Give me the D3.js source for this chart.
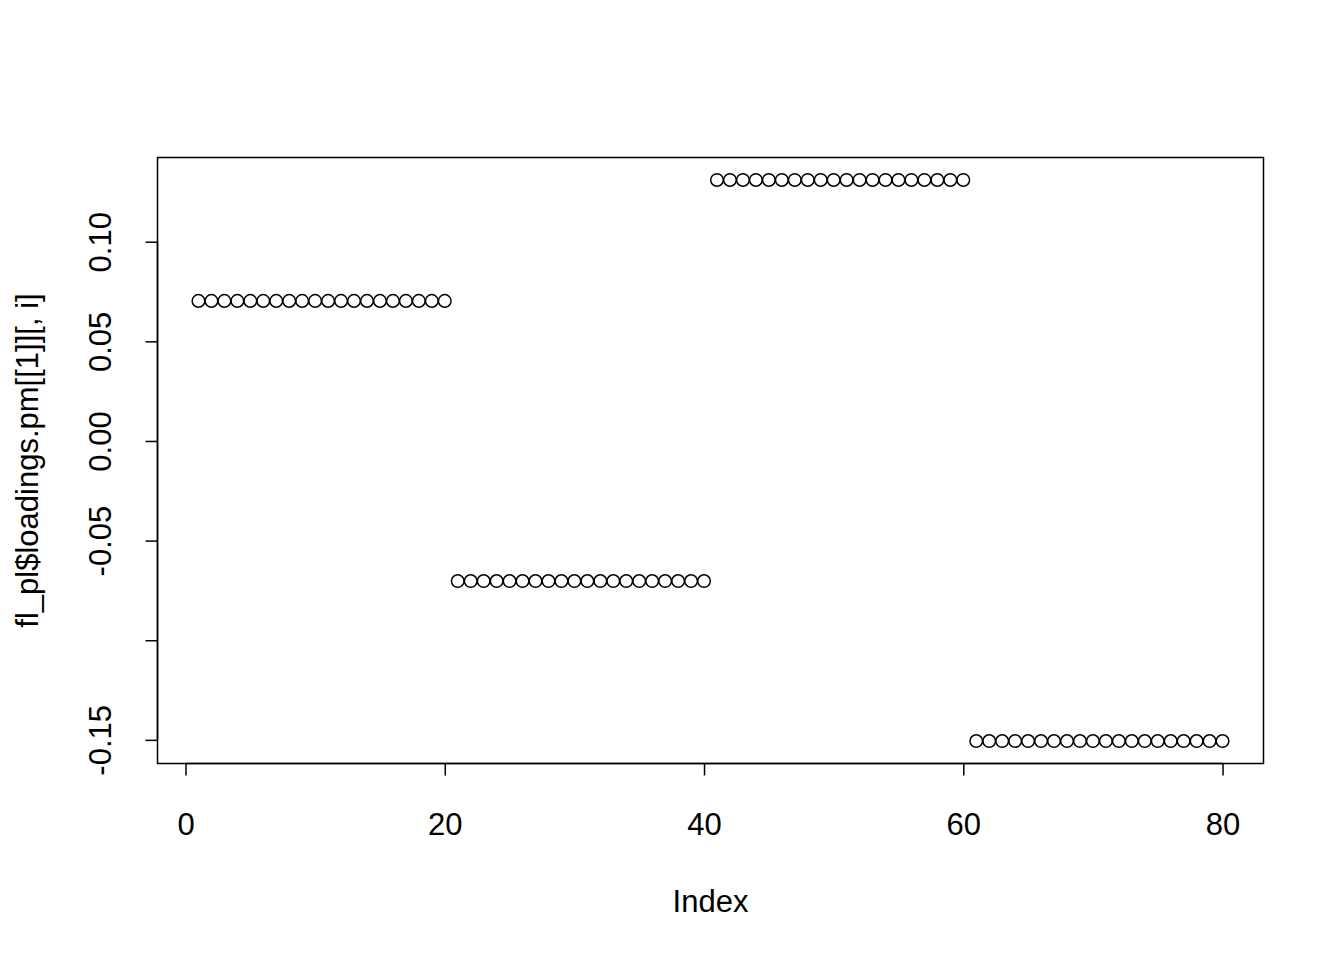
<!DOCTYPE html>
<html>
<head>
<meta charset="utf-8">
<script src="https://cdn.jsdelivr.net/npm/d3@7"></script>
<style>
  body { margin: 0; background: #fff; }
  text { font-family: "Liberation Sans", Arial, sans-serif; fill: #000; }
</style>
</head>
<body>
<svg id="chart" width="1344" height="960"></svg>
<script>
// loadings for each index, 4 blocks of 20
var groupValues = [0.0703, -0.0703, 0.131, -0.1506];
var groupSize = 20;
var xTicks = [0, 20, 40, 60, 80];
var yTicks = [-0.15, -0.10, -0.05, 0.00, 0.05, 0.10];
var yTickLabels = ["-0.15", "", "-0.05", "0.00", "0.05", "0.10"];

var points = [];
for (var g = 0; g < groupValues.length; g++) {
  for (var k = 0; k < groupSize; k++) {
    points.push({ idx: g * groupSize + k + 1, val: groupValues[g] });
  }
}

var plotLeft = 157.5, plotRight = 1263.5, plotTop = 157.5, plotBottom = 763.5;
var fontSize = 31;

var xMin = d3.min(points, function(d) { return d.idx; }),
    xMax = d3.max(points, function(d) { return d.idx; }),
    yMin = d3.min(points, function(d) { return d.val; }),
    yMax = d3.max(points, function(d) { return d.val; });
var xPad = (xMax - xMin) * 0.04, yPad = (yMax - yMin) * 0.04;

var x = d3.scaleLinear().domain([xMin - xPad, xMax + xPad]).range([plotLeft, plotRight]);
var y = d3.scaleLinear().domain([yMin - yPad, yMax + yPad]).range([plotBottom, plotTop]);

var svg = d3.select("#chart");

// box
svg.append("rect")
  .attr("x", plotLeft).attr("y", plotTop)
  .attr("width", plotRight - plotLeft).attr("height", plotBottom - plotTop)
  .attr("fill", "none").attr("stroke", "#000").attr("stroke-width", 1.5);

// x axis
var xAxis = d3.axisBottom(x).tickValues(xTicks).tickSize(12).tickPadding(37)
  .tickFormat(d3.format("d"));
var gx = svg.append("g").attr("transform", "translate(0," + plotBottom + ")").call(xAxis);
gx.select(".domain").attr("d", "M" + x(xTicks[0]) + ",0H" + x(xTicks[xTicks.length - 1]))
  .attr("stroke-width", 1.5);
gx.selectAll(".tick line").attr("stroke-width", 1.5);
gx.selectAll("text").attr("font-size", fontSize).attr("font-family", "Liberation Sans, Arial, sans-serif");

// y axis
var yAxis = d3.axisLeft(y).tickValues(yTicks).tickSize(12)
  .tickFormat(function(d, i) { return yTickLabels[i]; });
var gy = svg.append("g").attr("transform", "translate(" + plotLeft + ",0)").call(yAxis);
gy.select(".domain").attr("d", "M0," + y(yTicks[0]) + "V" + y(yTicks[yTicks.length - 1]))
  .attr("stroke-width", 1.5);
gy.selectAll(".tick line").attr("stroke-width", 1.5);
gy.selectAll("text")
  .attr("font-size", fontSize).attr("font-family", "Liberation Sans, Arial, sans-serif")
  .attr("x", null)
  .attr("text-anchor", "middle")
  .attr("transform", "translate(-57,0) rotate(-90)")
  .attr("dy", "0.35em");

// points
svg.append("g").selectAll("circle")
  .data(points)
  .enter().append("circle")
  .attr("cx", function(d) { return x(d.idx); })
  .attr("cy", function(d) { return y(d.val); })
  .attr("r", 6.3)
  .attr("fill", "none")
  .attr("stroke", "#000")
  .attr("stroke-width", 1.5);

// titles
svg.append("text")
  .attr("x", (plotLeft + plotRight) / 2).attr("y", 912)
  .attr("text-anchor", "middle").attr("font-size", fontSize)
  .text("Index");

svg.append("text")
  .attr("transform", "translate(38," + ((plotTop + plotBottom) / 2) + ") rotate(-90)")
  .attr("text-anchor", "middle").attr("font-size", fontSize)
  .text("fl_pl$loadings.pm[[1]][, i]");
</script>
</body>
</html>
